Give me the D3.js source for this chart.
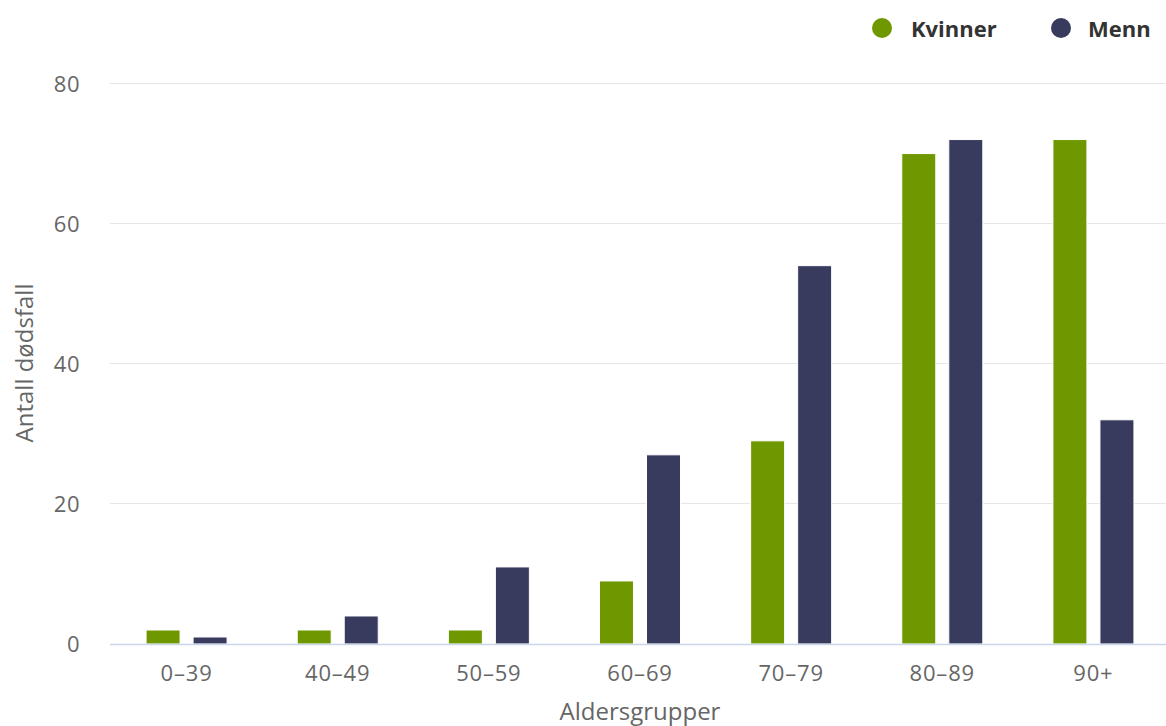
<!DOCTYPE html>
<html><head><meta charset="utf-8">
<script src="https://cdn.jsdelivr.net/npm/d3@7"></script>
<style>body{margin:0;background:#fff;} svg{display:block;font-family:"Open Sans",sans-serif;}</style>
</head><body>
<svg id="c" width="1166" height="726"></svg>
<script>
const categories = ["0-39","40-49","50-59","60-69","70-79","80-89","90+"];
const seriesNames = ["Kvinner","Menn"];
const kvinner = [2,2,2,9,29,70,72];
const menn = [1,4,11,27,54,72,32];
const yTicks = [0,20,40,60,80];
const colors = ["#6f9800","#383b5d"];

(function(){
const svg = d3.select("#c");
const pLeft = 111, pRight = 1169, pTop = 83.5, pBottom = 644;
const x = d3.scaleBand().domain(categories).range([pLeft, pRight]).padding(0);
const bw = x.bandwidth();
const x1 = d3.scaleBand().domain(seriesNames).range([bw*0.232, bw*0.768]).paddingInner(0.277).paddingOuter(0);
const y = d3.scaleLinear().domain([0,80]).range([pBottom, pTop]);

svg.append("g").selectAll("line").data(yTicks.filter(d=>d>0)).join("line")
  .attr("x1",110).attr("x2",1166).attr("y1",d=>Math.floor(y(d))+0.5).attr("y2",d=>Math.floor(y(d))+0.5)
  .attr("stroke","#e6e6e6").attr("stroke-width",1);

svg.append("g").selectAll("text").data(yTicks).join("text")
  .attr("x",80).attr("y",d=>y(d)+8).attr("text-anchor","end")
  .attr("fill","#666").attr("font-size",22).attr("letter-spacing",0.5).text(d=>d);

const data = categories.map((c,i)=>({c, vals:[kvinner[i], menn[i]]}));
const g = svg.append("g").selectAll("g").data(data).join("g")
  .attr("transform",d=>`translate(${x(d.c)},0)`);
g.selectAll("rect").data(d=>d.vals.map((v,j)=>({v, s:seriesNames[j], j}))).join("rect")
  .attr("x",d=>x1(d.s)).attr("width",x1.bandwidth())
  .attr("y",d=>y(d.v)).attr("height",d=>pBottom-y(d.v))
  .attr("fill",d=>colors[d.j]).attr("stroke","#fff").attr("stroke-width",1);

svg.append("line").attr("x1",110).attr("x2",1166).attr("y1",pBottom+0.5).attr("y2",pBottom+0.5)
  .attr("stroke","#ccd6eb").attr("stroke-width",1.5);

svg.append("g").selectAll("text").data(categories).join("text")
  .attr("x",d=>x(d)+bw/2).attr("y",681).attr("text-anchor","middle")
  .attr("fill","#666").attr("font-size",22).attr("letter-spacing",0.8).text(d=>d.replace("-","\u2013"));

svg.append("text").attr("x",640).attr("y",720).attr("text-anchor","middle")
  .attr("fill","#666").attr("font-size",24).text("Aldersgrupper");
svg.append("text").attr("transform","translate(33,363) rotate(-90)").attr("text-anchor","middle")
  .attr("fill","#666").attr("font-size",24).text("Antall dødsfall");

const leg = [{n:"Kvinner",cx:882,tx:911},{n:"Menn",cx:1061,tx:1088}];
const lg = svg.append("g");
leg.forEach((l,i)=>{
  lg.append("circle").attr("cx",l.cx).attr("cy",28).attr("r",10).attr("fill",colors[i]);
  lg.append("text").attr("x",l.tx).attr("y",37).attr("fill","#333").attr("font-size",22)
    .attr("font-weight","bold").text(l.n);
});
})();
</script>
</body></html>
